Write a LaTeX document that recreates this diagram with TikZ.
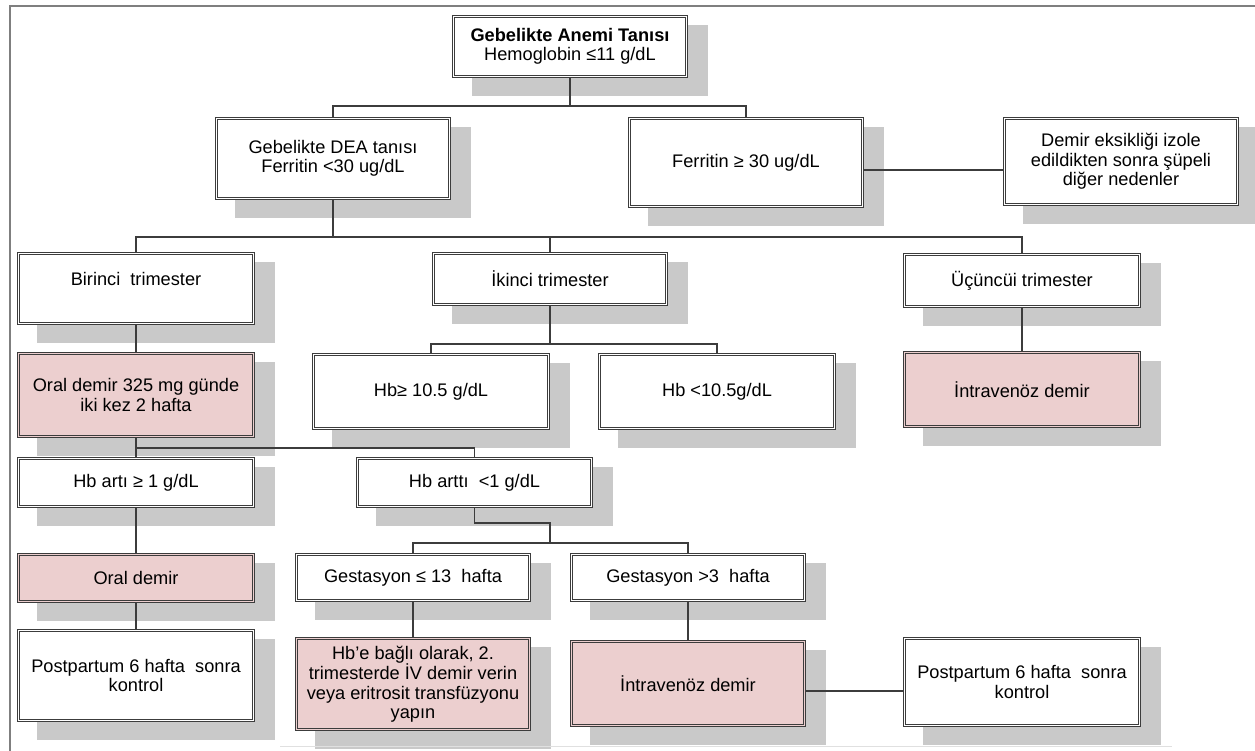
\documentclass[tikz,border=0pt]{standalone}
\usepackage{fontspec}
\setmainfont{Liberation Sans}
\usetikzlibrary{calc}
\definecolor{bordc}{HTML}{3C3C3C}
\definecolor{shadc}{HTML}{C9C9C9}
\definecolor{pinkc}{HTML}{ECCFCF}
\definecolor{framec}{HTML}{7F7F7F}
\pgfdeclarelayer{bg}
\pgfdeclarelayer{conn}
\pgfsetlayers{bg,conn,main}
\tikzset{
  wbox/.style={draw=bordc, line width=0.8pt, double=white, double distance=1.8pt,
    fill=white, inner sep=1pt, align=center, font=\fontsize{18.2pt}{19.5pt}\selectfont},
  pbox/.style={wbox, fill=pinkc, double=pinkc},
  cline/.style={draw=bordc, line width=1.1pt},
  raised/.style={text height=13pt, text depth=20pt},
}
\newcommand\mybox[7]{%
  \node[#6, minimum width={#4-#2-3}, minimum height={#5-#3-3}] (#1) at ({(#2+#4)/2},{(#3+#5)/2}) {#7};
  \begin{pgfonlayer}{bg}\fill[shadc] ({#2+20},{#3+10}) rectangle ({#4+20},{#5+18});\end{pgfonlayer}}
\begin{document}
\begin{tikzpicture}[x=1pt,y=-1pt]
\useasboundingbox (0,0) rectangle (1255,751);
\draw[framec, line width=2pt] (10,751) -- (10,6) -- (1255,6);
\draw[black!12, line width=1pt] (280,746) -- (1172,746);

\mybox{root}{452}{15}{688}{78}{wbox}{\textbf{Gebelikte Anemi Tanısı}\\Hemoglobin ≤11 g/dL}
\mybox{dea}{215}{117}{451}{200}{wbox}{Gebelikte DEA tanısı\\Ferritin <30 ug/dL}
\mybox{fer}{628}{117}{864}{208}{wbox}{Ferritin ≥ 30 ug/dL}
\mybox{dem}{1003}{117}{1239}{206}{wbox}{Demir eksikliği izole\\edildikten sonra şüpeli\\diğer nedenler}
\mybox{bir}{17}{252}{255}{325}{wbox, raised}{Birinci~ trimester}
\mybox{iki}{432}{252}{668}{306}{wbox}{İkinci trimester}
\mybox{ucu}{903}{253}{1141}{308}{wbox}{Üçüncüi trimester}
\mybox{ora}{17}{352}{255}{438}{pbox}{Oral demir 325 mg günde\\iki kez 2 hafta}
\mybox{hbg}{312}{353}{550}{430}{wbox}{Hb≥ 10.5 g/dL}
\mybox{hbl}{598}{353}{836}{430}{wbox}{Hb <10.5g/dL}
\mybox{ivr}{903}{351}{1141}{428}{pbox}{İntravenöz demir}
\mybox{art}{17}{457}{255}{508}{wbox}{Hb artı ≥ 1 g/dL}
\mybox{atl}{356}{457}{593}{508}{wbox}{Hb arttı~ <1 g/dL}
\mybox{ord}{17}{553}{255}{603}{pbox}{Oral demir}
\mybox{g13}{295}{553}{531}{602}{wbox}{Gestasyon ≤ 13~ hafta}
\mybox{gtr}{570}{553}{806}{602}{wbox}{Gestasyon >3~ hafta}
\mybox{hbe}{295}{637}{531}{731}{pbox}{Hb'e bağlı olarak, 2.\\trimesterde İV demir verin\\veya eritrosit transfüzyonu\\yapın}
\mybox{ivb}{570}{640}{806}{727}{pbox}{İntravenöz demir}
\mybox{ppa}{17}{629}{255}{722}{wbox}{Postpartum 6 hafta~ sonra\\kontrol}
\mybox{ppb}{903}{637}{1141}{727}{wbox}{Postpartum 6 hafta~ sonra\\kontrol}

\coordinate (j1) at (570,106);
\coordinate (ferline) at (0,170);
\coordinate (j2) at (333,237);
\coordinate (j3) at (550,344);
\coordinate (j4) at (0,448);
\coordinate (j5) at (550,523);
\coordinate (j6) at (550,543);
\coordinate (ivline) at (0,691);

\begin{pgfonlayer}{conn}
\draw[cline] (root.south) -- (j1);
\draw[cline] (dea.north) |- (j1) -| (fer.north);
\draw[cline] (fer.east |- ferline) -- (dem.west |- ferline);
\draw[cline] (dea.south) -- (j2);
\draw[cline] (bir.north) |- (j2) -| (ucu.north);
\draw[cline] (iki.north) -- (iki.north |- j2);
\draw[cline] (bir.south) -- (ora.north);
\draw[cline] (iki.south) -- (iki.south |- j3);
\draw[cline] (hbg.north) |- (j3) -| (hbl.north);
\draw[cline] (ucu.south) -- (ivr.north);
\draw[cline] (ora.south) -- (art.north);
\draw[cline] (ora.south |- j4) -| (atl.north);
\draw[cline] (art.south) -- (ord.north);
\draw[cline] (ord.south) -- (ppa.north);
\draw[cline] (atl.south) |- (j5) -- (j6);
\draw[cline] (g13.north) |- (j6) -| (gtr.north);
\draw[cline] (g13.south) -- (hbe.north);
\draw[cline] (gtr.south) -- (ivb.north);
\draw[cline] (ivb.east |- ivline) -- (ppb.west |- ivline);
\end{pgfonlayer}
\end{tikzpicture}
\end{document}
